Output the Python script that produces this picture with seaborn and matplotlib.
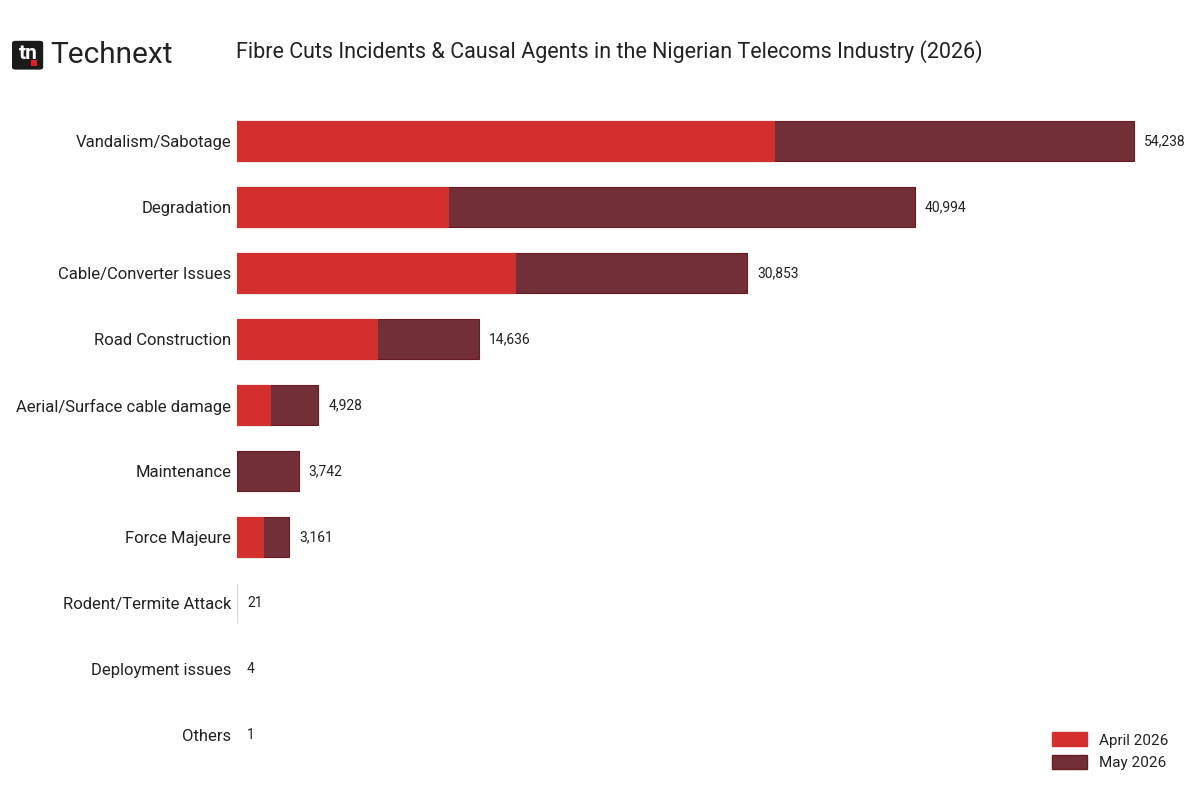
import matplotlib
matplotlib.use('Agg')
import matplotlib.pyplot as plt
import seaborn as sns
import pandas as pd
from matplotlib.patches import FancyBboxPatch, Rectangle, Patch

# Data
causes = ['Vandalism/Sabotage', 'Degradation', 'Cable/Converter Issues', 'Road Construction',
          'Aerial/Surface cable damage', 'Maintenance', 'Force Majeure', 'Rodent/Termite Attack',
          'Deployment issues', 'Others']
totals = [54238, 40994, 30853, 14636, 4928, 3742, 3161, 21, 4, 1]
april = [32500, 12770, 16830, 8480, 2000, 0, 1570, 0, 0, 0]

april_color = '#D32F2F'
may_color = '#722F37'

df = pd.DataFrame({'cause': causes, 'total': totals, 'april': april})

sns.set_style('white')
plt.rcParams['font.family'] = ['Roboto', 'DejaVu Sans']

fig = plt.figure(figsize=(12, 8), dpi=100)
ax = fig.add_axes([0.1975, 0.04, 0.795, 0.825])

# Total bar in May colour, April part drawn over it
sns.barplot(data=df, x='total', y='cause', color=may_color, width=0.6,
            edgecolor='#6a1a22', linewidth=0.8, saturation=1, ax=ax)
sns.barplot(data=df, x='april', y='cause', color=april_color, width=0.6,
            edgecolor='#D32F2F', linewidth=0.8, saturation=1, ax=ax)

# near-zero bars: no dark outline, only a faint line for the rodent one
for p in ax.patches:
    if p.get_width() < 100:
        p.set_linewidth(0)
ax.patches[7].set_edgecolor('#e6d6d8')
ax.patches[7].set_linewidth(1)

ax.set_xlim(0, 57700)
ax.set_ylim(9.5, -0.5)
ax.set_xlabel('')
ax.set_ylabel('')
ax.set_xticks([])
ax.tick_params(axis='y', length=0, pad=4, labelsize=12, labelcolor='#222222')
sns.despine(ax=ax, left=True, bottom=True)

for i, v in enumerate(totals):
    ax.annotate(f'{v:,}', xy=(v, i), xytext=(7, 0), textcoords='offset points',
                va='center', ha='left', fontsize=10, color='#222222')

# Title
fig.text(0.197, 0.935, 'Fibre Cuts Incidents & Causal Agents in the Nigerian Telecoms Industry (2026)',
         fontsize=15.5, color='#222222', va='center', ha='left')

# Logo
fig.patches.append(FancyBboxPatch((0.010, 0.913), 0.026, 0.036, boxstyle='round,pad=0,rounding_size=0.003',
                                  transform=fig.transFigure, facecolor='#1a1a1a', edgecolor='none'))
fig.text(0.0235, 0.933, 'tn', fontsize=15, fontweight='bold', color='white', ha='center', va='center')
fig.patches.append(Rectangle((0.0255, 0.917), 0.005, 0.008, transform=fig.transFigure,
                             facecolor='#e31b23', edgecolor='none'))
fig.text(0.042, 0.931, 'Technext', fontsize=21.5, color='#222222', ha='left', va='center')

# Legend
handles = [Patch(facecolor=april_color, edgecolor=april_color, label='April 2026'),
           Patch(facecolor=may_color, edgecolor='#6a1a22', label='May 2026')]
fig.legend(handles=handles, loc='lower right', bbox_to_anchor=(0.985, 0.02), frameon=False,
           fontsize=11, handlelength=2.3, handleheight=1.0, labelcolor='#222222')

fig.savefig('out.png', dpi=100)
